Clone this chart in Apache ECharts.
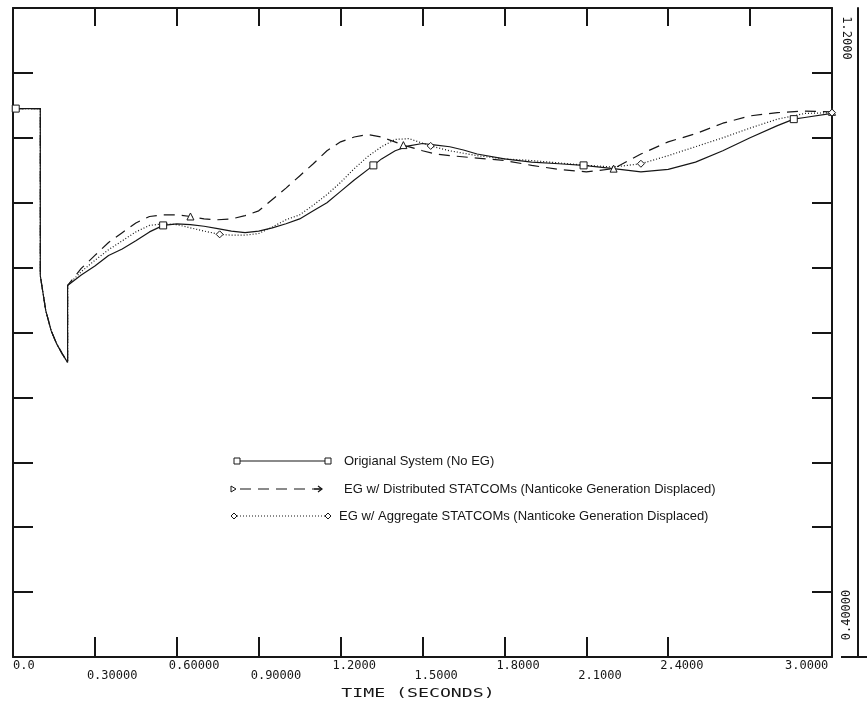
<!DOCTYPE html>
<html><head><meta charset="utf-8">
<script src="https://cdn.jsdelivr.net/npm/echarts@6.0.0/dist/echarts.min.js"></script>
<style>html,body{margin:0;padding:0;background:#fff}#c{width:867px;height:704px}</style>
</head><body><div id="c"></div>
<script>
// ---- data (time in seconds, value in p.u.) ----
const tSolid = [0,0.01,0.1,0.1,0.12,0.14,0.16,0.18,0.2,0.2,0.25,0.3,0.35,0.4,0.45,0.5,0.55,0.6,0.65,0.7,0.75,0.8,0.85,0.9,0.95,1.0,1.05,1.1,1.15,1.2,1.25,1.32,1.35,1.4,1.45,1.5,1.55,1.6,1.65,1.7,1.8,1.9,2.0,2.09,2.2,2.3,2.4,2.5,2.6,2.7,2.8,2.86,2.9,3.0];
const vSolid = [1.076,1.076,1.076,0.870,0.827,0.802,0.786,0.774,0.763,0.858,0.871,0.882,0.895,0.903,0.913,0.924,0.932,0.934,0.933,0.931,0.928,0.925,0.923,0.925,0.929,0.934,0.940,0.950,0.960,0.974,0.988,1.006,1.014,1.024,1.030,1.033,1.031,1.029,1.025,1.020,1.014,1.010,1.008,1.006,1.002,0.998,1.001,1.010,1.024,1.040,1.055,1.063,1.065,1.070];
const markSolid = [0.01,0.55,1.32,2.09,2.86];

const tDashed = [0,0.1,0.1,0.12,0.14,0.16,0.18,0.2,0.2,0.25,0.3,0.35,0.4,0.45,0.5,0.55,0.6,0.65,0.7,0.75,0.8,0.85,0.9,0.95,1.0,1.05,1.1,1.15,1.2,1.25,1.3,1.35,1.43,1.5,1.55,1.6,1.7,1.8,1.9,2.0,2.1,2.2,2.3,2.4,2.5,2.6,2.7,2.8,2.9,3.0];
const vDashed = [1.076,1.076,0.870,0.827,0.802,0.786,0.774,0.763,0.858,0.879,0.895,0.911,0.923,0.935,0.943,0.945,0.945,0.943,0.940,0.939,0.940,0.944,0.950,0.964,0.978,0.993,1.008,1.024,1.035,1.041,1.044,1.041,1.031,1.024,1.020,1.018,1.015,1.012,1.006,1.001,0.998,1.002,1.020,1.035,1.045,1.058,1.067,1.071,1.073,1.072];
const markDashed = [0.65,1.43,2.2,3.0];

const tDotted = [0,0.1,0.1,0.12,0.14,0.16,0.18,0.2,0.2,0.25,0.3,0.35,0.4,0.45,0.5,0.55,0.6,0.65,0.7,0.757,0.8,0.85,0.9,0.95,1.0,1.05,1.1,1.15,1.2,1.25,1.3,1.35,1.4,1.45,1.53,1.6,1.7,1.8,1.9,2.0,2.1,2.2,2.3,2.4,2.5,2.6,2.7,2.8,2.9,3.0];
const vDotted = [1.076,1.076,0.870,0.827,0.802,0.786,0.774,0.763,0.858,0.875,0.889,0.902,0.913,0.924,0.932,0.934,0.933,0.929,0.925,0.921,0.920,0.920,0.922,0.930,0.939,0.945,0.957,0.970,0.985,1.002,1.017,1.029,1.038,1.039,1.030,1.024,1.018,1.014,1.012,1.009,1.006,1.004,1.008,1.018,1.029,1.040,1.052,1.063,1.070,1.071];
const markDotted = [0.757,1.53,2.3,3.0];

const xTickLabels = ['0.0','0.30000','0.60000','0.90000','1.2000','1.5000','1.8000','2.1000','2.4000','2.7000','3.0000'];
const yEndLabels = ['1.2000','0.40000'];
const seriesNames = ['Origianal System (No EG)','EG w/ Distributed STATCOMs (Nanticoke Generation Displaced)','EG w/ Aggregate STATCOMs (Nanticoke Generation Displaced)'];
const axisName = 'TIME (SECONDS)';

// ---- chart ----
const INK = '#161616';
const MONO = '"DejaVu Sans Mono", "Liberation Mono", monospace';
const SANS = '"Liberation Sans", Arial, sans-serif';
const chart = echarts.init(document.getElementById('c'), null, {renderer:'canvas'});

function pairs(t, v){ return t.map((x,i)=>[x, v[i]]); }
function mk(series, t, v, marks, sym, lineType){
  return {
    type:'line', name: series, data: pairs(t,v), animation:false, silent:true,
    showSymbol:true, showAllSymbol:true,
    symbol: (val)=> marks.indexOf(val[0])>=0 ? sym : 'none',
    symbolSize: 7,
    itemStyle:{color:'#fff', borderColor:INK, borderWidth:1},
    lineStyle:{color:INK, width:1.2, type:lineType},
    emphasis:{disabled:true}, z:3
  };
}

const option = {
  animation:false,
  backgroundColor:'#fff',
  grid:{left:13, right:35, top:8, bottom:47, containLabel:false, outerBoundsMode:'none'},
  xAxis:[{
    type:'value', min:0, max:3, interval:0.3, position:'bottom',
    axisLine:{show:true, onZero:false, lineStyle:{color:INK, width:2}},
    axisTick:{show:true, inside:true, length:20, lineStyle:{color:INK, width:2}},
    splitLine:{show:false},
    axisLabel:{
      show:true, margin:4, hideOverlap:false, showMinLabel:true, showMaxLabel:true,
      fontFamily:MONO, fontSize:12, color:INK, lineHeight:10,
      formatter:(val)=>{
        const i = Math.round(val/0.3);
        const s = xTickLabels[i];
        if(i===0) return '{f|'+s+'}';
        if(i===10) return '{l|'+s+'}';
        return (i%2 ? '\n' : '') + '{n|'+s+'}';
      },
      rich:{
        f:{width:0, align:'left', fontFamily:MONO, fontSize:12, color:INK, lineHeight:10},
        n:{width:16, align:'left', fontFamily:MONO, fontSize:12, color:INK, lineHeight:10},
        l:{width:94, align:'left', fontFamily:MONO, fontSize:12, color:INK, lineHeight:10}
      }
    }
  },{
    type:'value', min:0, max:3, interval:0.3, position:'top',
    axisLine:{show:true, onZero:false, lineStyle:{color:INK, width:2}},
    axisTick:{show:true, inside:true, length:18, lineStyle:{color:INK, width:2}},
    axisLabel:{show:false}, splitLine:{show:false}
  }],
  yAxis:[{
    type:'value', min:0.4, max:1.2, interval:0.08, position:'left',
    axisLine:{show:true, onZero:false, lineStyle:{color:INK, width:2}},
    axisTick:{show:true, inside:true, length:20, lineStyle:{color:INK, width:2}},
    axisLabel:{show:false}, splitLine:{show:false}
  },{
    type:'value', min:0.4, max:1.2, interval:0.08, position:'right',
    axisLine:{show:true, onZero:false, lineStyle:{color:INK, width:2}},
    axisTick:{show:true, inside:true, length:20, lineStyle:{color:INK, width:2}},
    axisLabel:{show:false}, splitLine:{show:false}
  },{
    type:'value', min:0.4, max:1.2, interval:0.8, position:'right', offset:26,
    axisLine:{show:true, onZero:false, lineStyle:{color:INK, width:2}},
    axisTick:{show:false}, axisLabel:{show:false}, splitLine:{show:false}
  }],
  series:[
    mk(seriesNames[0], tSolid, vSolid, markSolid, 'rect', 'solid'),
    mk(seriesNames[1], tDashed, vDashed, markDashed, 'triangle', [11,7]),
    mk(seriesNames[2], tDotted, vDotted, markDotted, 'diamond', [1,2])
  ],
  graphic:[
    // axis title
    {type:'text', x:418, y:694, scaleX:1.4, silent:true,
     style:{text:axisName, font:'13px '+MONO, fill:INK, align:'center', verticalAlign:'middle'}},
    // right-side end labels
    {type:'text', x:846, y:38, rotation:-Math.PI/2, silent:true,
     style:{text:yEndLabels[0], font:'12px '+MONO, fill:INK, align:'center', verticalAlign:'middle'}},
    {type:'text', x:847, y:615, rotation:Math.PI/2, silent:true,
     style:{text:yEndLabels[1], font:'12px '+MONO, fill:INK, align:'center', verticalAlign:'middle'}},
    {type:'line', silent:true, shape:{x1:841, y1:657, x2:867, y2:657}, style:{stroke:INK, lineWidth:2}},
    // legend row 1
    {type:'line', silent:true, shape:{x1:237, y1:461, x2:328, y2:461}, style:{stroke:INK, lineWidth:1.2}},
    {type:'rect', silent:true, shape:{x:234, y:458, width:6, height:6}, style:{fill:'#fff', stroke:INK, lineWidth:1}},
    {type:'rect', silent:true, shape:{x:325, y:458, width:6, height:6}, style:{fill:'#fff', stroke:INK, lineWidth:1}},
    {type:'text', silent:true, x:344, y:461, style:{text:seriesNames[0], font:'13px '+SANS, fill:INK, verticalAlign:'middle'}},
    // legend row 2
    {type:'line', silent:true, shape:{x1:240, y1:489, x2:321, y2:489}, style:{stroke:INK, lineWidth:1.2, lineDash:[11,7]}},
    {type:'polygon', silent:true, shape:{points:[[231,486],[231,492],[236,489]]}, style:{fill:'#fff', stroke:INK, lineWidth:1}},
    {type:'line', silent:true, shape:{x1:314, y1:489, x2:322, y2:489}, style:{stroke:INK, lineWidth:1.2}},
    {type:'polyline', silent:true, shape:{points:[[318,486],[322,489],[318,492]]}, style:{fill:null, stroke:INK, lineWidth:1.2}},
    {type:'text', silent:true, x:344, y:489, style:{text:seriesNames[1], font:'13px '+SANS, fill:INK, verticalAlign:'middle'}},
    // legend row 3
    {type:'line', silent:true, shape:{x1:237, y1:516, x2:328, y2:516}, style:{stroke:INK, lineWidth:1.2, lineDash:[1,2]}},
    {type:'polygon', silent:true, shape:{points:[[234,513],[237,516],[234,519],[231,516]]}, style:{fill:'#fff', stroke:INK, lineWidth:1}},
    {type:'polygon', silent:true, shape:{points:[[328,513],[331,516],[328,519],[325,516]]}, style:{fill:'#fff', stroke:INK, lineWidth:1}},
    {type:'text', silent:true, x:339, y:516, style:{text:seriesNames[2], font:'13px '+SANS, fill:INK, verticalAlign:'middle'}}
  ]
};
chart.setOption(option);
</script>
</body></html>
